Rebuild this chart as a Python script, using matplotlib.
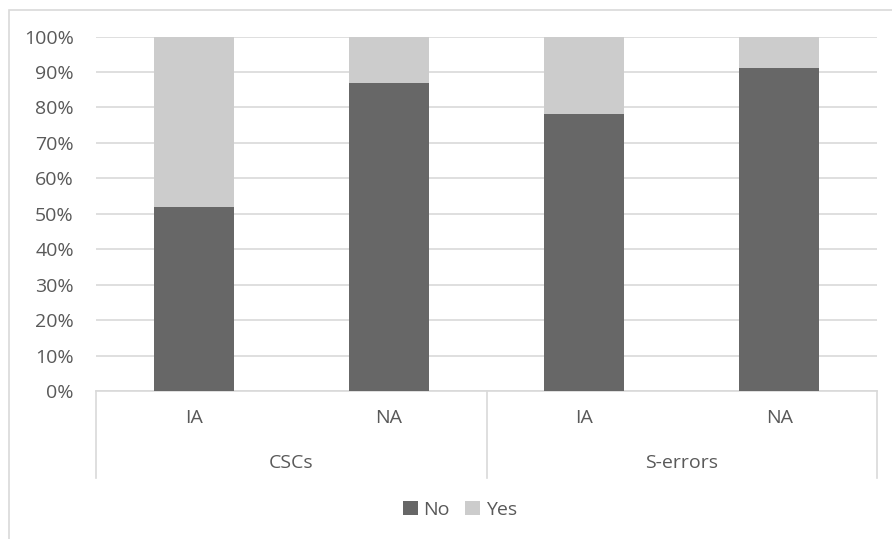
import matplotlib.pyplot as plt
from matplotlib.patches import Rectangle
from matplotlib.ticker import FuncFormatter

groups = ["CSCs", "S-errors"]
subgroups = ["IA", "NA", "IA", "NA"]
no_pct = [52, 87, 78, 91]
yes_pct = [100 - v for v in no_pct]

dark = "#676767"
light = "#cccccc"
text_c = "#595959"
line_c = "#d9d9d9"
fs = 14

plt.rcParams['font.family'] = ['Open Sans', 'DejaVu Sans']

W, H = 892, 539
fig = plt.figure(figsize=(W / 100, H / 100), dpi=100)
ax = fig.add_axes([96 / W, 1 - 391 / H, (877 - 96) / W, (391 - 36.5) / H])

x = range(len(subgroups))
ax.bar(x, no_pct, width=0.41, color=dark, label="No", zorder=2)
ax.bar(x, yes_pct, bottom=no_pct, width=0.41, color=light, label="Yes", zorder=2)

ax.set_xlim(-0.5, len(subgroups) - 0.5)
ax.set_ylim(0, 100)
ax.set_yticks(range(0, 101, 10))
ax.yaxis.set_major_formatter(FuncFormatter(lambda v, p: f"{int(v)}%"))
ax.tick_params(axis='y', length=0, pad=16, labelsize=fs, labelcolor=text_c)
ax.set_xticks([])
ax.grid(axis='y', color=line_c, linewidth=1.2, zorder=0)
for s in ax.spines.values():
    s.set_visible(False)

# two-level category axis drawn below the plot
tr = ax.get_xaxis_transform()
ax.plot([-0.5, 3.5], [0, 0], color=line_c, lw=1.2, transform=tr, clip_on=False, zorder=1)
sub_y = -(418 - 391) / (391 - 36.5)
grp_y = -(463 - 391) / (391 - 36.5)
line_end = -(478 - 391) / (391 - 36.5)
for xs in [-0.5, 1.5, 3.5]:
    ax.plot([xs, xs], [0, line_end], color=line_c, lw=1.2, transform=tr, clip_on=False)
for i, lab in enumerate(subgroups):
    ax.text(i, sub_y, lab, transform=tr, ha='center', va='center', fontsize=fs, color=text_c)
for j, g in enumerate(groups):
    ax.text(2 * j + 0.5, grp_y, g, transform=tr, ha='center', va='center', fontsize=fs, color=text_c)

fig.legend(loc='center', bbox_to_anchor=(460 / W, 1 - 510 / H), ncol=2, frameon=False,
           fontsize=fs, labelcolor=text_c, handlelength=0.75, handleheight=0.75,
           handletextpad=0.3, columnspacing=0.8)

# chart area border
fig.patches.append(Rectangle((9 / W, -0.1), 1.2, 1 - 10 / H + 0.1, transform=fig.transFigure,
                             fill=False, edgecolor=line_c, lw=1.2))

fig.savefig("out.png", dpi=100)
